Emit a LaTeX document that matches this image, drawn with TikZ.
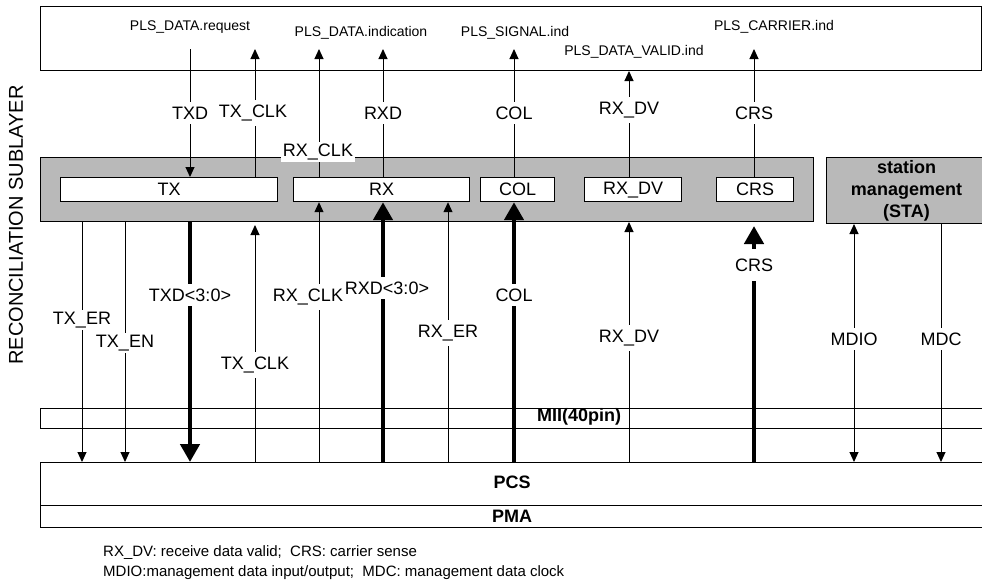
\documentclass[tikz,border=0pt]{standalone}
\usepackage{fontspec}
\setmainfont{Liberation Sans}
\usetikzlibrary{arrows.meta}
\newcommand{\sigfont}{\fontsize{18}{20}\selectfont}
\newcommand{\plsfont}{\fontsize{14}{16}\selectfont}
\newcommand{\notefont}{\fontsize{15}{17}\selectfont}
\newcommand{\stafont}{\fontsize{18}{22}\selectfont\bfseries}
\newcommand{\layfont}{\fontsize{18}{20}\selectfont\bfseries}
\newcommand{\sidefont}{\fontsize{20}{22}\selectfont}
\begin{document}
\begin{tikzpicture}[x=1pt, y=-1pt,
    fine/.style={line width=1pt, -{Triangle[length=10pt,width=9pt]}},
    both/.style={line width=1pt, {Triangle[length=10pt,width=9pt]}-{Triangle[length=10pt,width=9pt]}},
    bus/.style={line width=4.5pt, -{Triangle[length=18pt,width=19pt]}},
    lbl/.style={fill=white, inner xsep=2pt, inner ysep=5pt, font=\sigfont},
    pls/.style={inner sep=0pt, font=\plsfont},
    layer/.style={draw, line width=1pt, anchor=north west, inner sep=0pt},
    shade/.style={draw, line width=1pt, fill=gray!55, anchor=north west, inner sep=0pt},
    cell/.style={draw, fill=white, line width=1.2pt, anchor=north west, inner sep=0pt,
                 minimum height=24pt, font=\sigfont}]
  \useasboundingbox (0,0) rectangle (982,582);

  % Riquadro PLS
  \node[layer, minimum width=941pt, minimum height=64pt] (plsbox) at (40,6) {};
  \node[pls] (req) at (190,27) {PLS\_DATA.request};
  \node[pls] (ind) at (361,33) {PLS\_DATA.indication};
  \node[pls] (sgn) at (515,33) {PLS\_SIGNAL.ind};
  \node[pls] (valid) at (634,52) {PLS\_DATA\_VALID.ind};
  \node[pls] (carr) at (774,27) {PLS\_CARRIER.ind};

  % Fascia di riconciliazione e STA
  \node[shade, minimum width=773pt, minimum height=64pt] (rs) at (40,157) {};
  \node[shade, minimum width=160pt, minimum height=66pt, font=\stafont, align=center]
    (sta) at (826,157) {station\\management\\(STA)};
  \node[rotate=90, font=\sidefont] (rsname) at (16,225) {RECONCILIATION SUBLAYER};

  % Blocchi interni
  \node[cell, minimum width=217pt] (tx) at (60,177) {TX};
  \node[cell, minimum width=176pt] (rx) at (293,177) {RX};
  \node[cell, minimum width=74pt] (col) at (480,177) {COL};
  \node[cell, minimum width=97pt] (rxdv) at (584,177) {RX\_DV};
  \node[cell, minimum width=77pt] (crs) at (716,177) {CRS};

  % MII, PCS, PMA
  \node[layer, minimum width=946pt, minimum height=20pt] (mii) at (40,408) {};
  \node[layer, minimum width=946pt, minimum height=43pt] (pcs) at (40,462) {};
  \node[layer, minimum width=946pt, minimum height=22pt] (pma) at (40,505) {};

  % Colonne dei segnali
  \coordinate (c-txer) at (82,0);
  \coordinate (c-txen) at (125,0);
  \coordinate (c-txd) at (190,0);
  \coordinate (c-txclk) at (255,0);
  \coordinate (c-rxclk) at (319,0);
  \coordinate (c-rxd) at (383,0);
  \coordinate (c-rxer) at (448,0);
  \coordinate (c-col) at (514,0);
  \coordinate (c-rxdv) at (629,0);
  \coordinate (c-crs) at (754,0);
  \coordinate (c-mdio) at (854,0);
  \coordinate (c-mdc) at (941,0);
  \coordinate (c-up) at (0,49);

  % Segnali verso PLS
  \draw[fine] (c-txd |- c-up) -- (tx.north -| c-txd);
  \draw[fine] (tx.north -| c-txclk) -- (c-txclk |- c-up);
  \draw[fine] (rx.north -| c-rxclk) -- (c-rxclk |- c-up);
  \draw[fine] (rx.north -| c-rxd) -- (c-rxd |- c-up);
  \draw[fine] (col.north -| c-col) -- (c-col |- c-up);
  \draw[fine] (rxdv.north -| c-rxdv) -- (plsbox.south -| c-rxdv);
  \draw[fine] (crs.north -| c-crs) -- (c-crs |- c-up);

  \node[lbl] (u-txd) at (190,113) {TXD};
  \node[lbl] (u-txclk) at (253,113) {TX\_CLK};
  \node[lbl] (u-rxd) at (383,113) {RXD};
  \node[lbl] (u-col) at (514,113) {COL};
  \node[lbl] (u-rxdv) at (629,110) {RX\_DV};
  \node[lbl] (u-crs) at (754,113) {CRS};
  \node[lbl, inner ysep=2pt] (u-rxclk) at (318,152) {RX\_CLK};

  % Segnali verso MII
  \draw[fine] (rs.south -| c-txer) -- (pcs.north -| c-txer);
  \draw[fine] (rs.south -| c-txen) -- (pcs.north -| c-txen);
  \draw[bus] (rs.south -| c-txd) -- (pcs.north -| c-txd);
  \draw[fine] (pcs.north -| c-txclk) -- ([yshift=-3pt]rs.south -| c-txclk);
  \draw[fine] (pcs.north -| c-rxclk) -- (rx.south -| c-rxclk);
  \draw[bus] (pcs.north -| c-rxd) -- (rx.south -| c-rxd);
  \draw[fine] (pcs.north -| c-rxer) -- (rx.south -| c-rxer);
  \draw[bus] (pcs.north -| c-col) -- (col.south -| c-col);
  \draw[fine] (pcs.north -| c-rxdv) -- (rs.south -| c-rxdv);
  \draw[bus] (pcs.north -| c-crs) -- ([yshift=-4pt]rs.south -| c-crs);
  \draw[both] (sta.south -| c-mdio) -- (pcs.north -| c-mdio);
  \draw[fine] (sta.south -| c-mdc) -- (pcs.north -| c-mdc);

  \node[lbl, inner ysep=2pt] (d-txer) at (82,320) {TX\_ER};
  \node[lbl, inner ysep=2pt] (d-txen) at (125,343) {TX\_EN};
  \node[lbl] (d-txd) at (190,295) {TXD<3:0>};
  \node[lbl] (d-txclk) at (255,365) {TX\_CLK};
  \node[lbl] (d-rxclk) at (308,297) {RX\_CLK};
  \node[lbl] (d-rxd) at (387,288) {RXD<3:0>};
  \node[lbl] (d-rxer) at (448,333) {RX\_ER};
  \node[lbl] (d-col) at (514,295) {COL};
  \node[lbl] (d-rxdv) at (629,338) {RX\_DV};
  \node[lbl, inner ysep=10pt] (d-crs) at (754,265) {CRS};
  \node[lbl] (d-mdio) at (854,339) {MDIO};
  \node[lbl] (d-mdc) at (941,339) {MDC};

  % Nomi degli strati
  \node[font=\layfont, inner sep=0pt] (miiname) at (579,417) {MII(40pin)};
  \node[font=\layfont, inner sep=0pt] (pcsname) at (512,482) {PCS};
  \node[font=\layfont, inner sep=0pt] (pmaname) at (512,516) {PMA};

  % Legenda
  \node[anchor=west, font=\notefont, inner sep=0pt] (note1) at (103,553)
    {RX\_DV: receive data valid;\ \ CRS: carrier sense};
  \node[anchor=west, font=\notefont, inner sep=0pt] (note2) at (103,573)
    {MDIO:management data input/output;\ \ MDC: management data clock};
\end{tikzpicture}
\end{document}
